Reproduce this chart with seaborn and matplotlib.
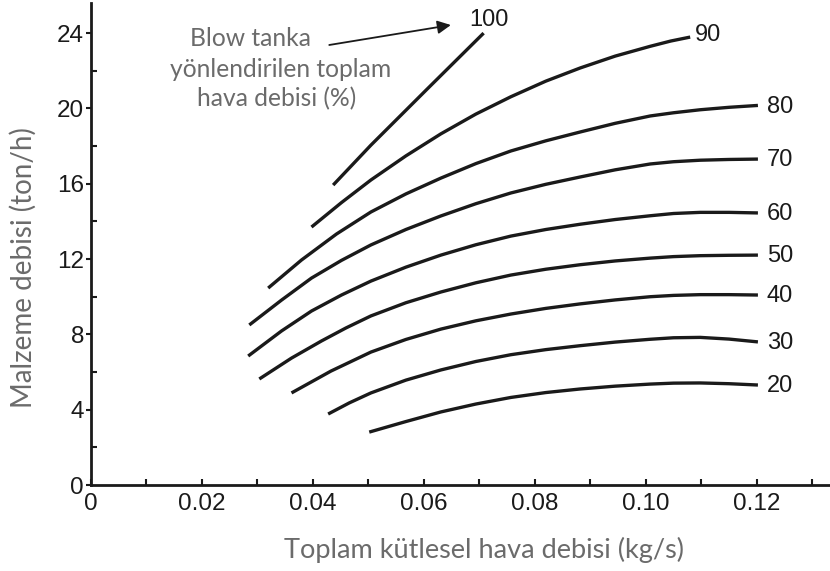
import matplotlib
matplotlib.use("Agg")
import matplotlib.pyplot as plt
import seaborn as sns
import pandas as pd
from matplotlib.ticker import FixedLocator, MultipleLocator

# ---------------- data ----------------
curve_names = ["100", "90", "80", "70", "60", "50", "40", "30", "20"]

x_100 = [0.0437, 0.0505, 0.0606, 0.0708]
y_100 = [15.93, 18.05, 21.02, 24.00]
x_90 = [0.0398, 0.0452, 0.0505, 0.0568, 0.0631, 0.0694, 0.0757, 0.0820, 0.0882,
        0.0945, 0.1008, 0.1045, 0.1080]
y_90 = [13.70, 15.00, 16.20, 17.48, 18.65, 19.70, 20.62, 21.45, 22.15,
        22.78, 23.30, 23.58, 23.79]
x_80 = [0.0320, 0.0380, 0.0443, 0.0505, 0.0568, 0.0631, 0.0694, 0.0757, 0.0820,
        0.0882, 0.0945, 0.1008, 0.1050, 0.1098, 0.1150, 0.1202]
y_80 = [10.46, 11.95, 13.33, 14.50, 15.46, 16.30, 17.07, 17.74, 18.28,
        18.75, 19.21, 19.60, 19.77, 19.93, 20.06, 20.16]
x_70 = [0.0286, 0.0344, 0.0398, 0.0452, 0.0505, 0.0568, 0.0631, 0.0694, 0.0757,
        0.0820, 0.0882, 0.0945, 0.1008, 0.1050, 0.1098, 0.1150, 0.1202]
y_70 = [8.50, 9.82, 10.99, 11.93, 12.75, 13.57, 14.29, 14.94, 15.51,
        15.97, 16.36, 16.74, 17.05, 17.17, 17.25, 17.29, 17.31]
x_60 = [0.0284, 0.0344, 0.0398, 0.0452, 0.0505, 0.0568, 0.0631, 0.0694, 0.0757,
        0.0820, 0.0882, 0.0945, 0.1008, 0.1050, 0.1098, 0.1150, 0.1202]
y_60 = [6.85, 8.18, 9.24, 10.09, 10.83, 11.57, 12.21, 12.76, 13.22,
        13.57, 13.85, 14.10, 14.30, 14.42, 14.48, 14.48, 14.45]
x_50 = [0.0304, 0.0362, 0.0416, 0.0460, 0.0505, 0.0568, 0.0631, 0.0694, 0.0757,
        0.0820, 0.0882, 0.0945, 0.1008, 0.1050, 0.1098, 0.1150, 0.1202]
y_50 = [5.63, 6.74, 7.65, 8.34, 8.98, 9.68, 10.25, 10.74, 11.15,
        11.46, 11.70, 11.90, 12.05, 12.13, 12.18, 12.20, 12.21]
x_40 = [0.0362, 0.0433, 0.0505, 0.0568, 0.0631, 0.0694, 0.0757, 0.0820, 0.0882,
        0.0945, 0.1008, 0.1050, 0.1098, 0.1150, 0.1202]
y_40 = [4.89, 6.05, 7.06, 7.73, 8.28, 8.72, 9.08, 9.38, 9.62,
        9.83, 10.00, 10.07, 10.11, 10.11, 10.09]
x_30 = [0.0428, 0.0466, 0.0505, 0.0568, 0.0631, 0.0694, 0.0757, 0.0820, 0.0882,
        0.0945, 0.1008, 0.1050, 0.1098, 0.1150, 0.1202]
y_30 = [3.77, 4.36, 4.89, 5.57, 6.11, 6.56, 6.92, 7.19, 7.40,
        7.59, 7.74, 7.82, 7.84, 7.75, 7.60]
x_20 = [0.0502, 0.0568, 0.0631, 0.0694, 0.0757, 0.0820, 0.0882, 0.0945, 0.1008,
        0.1050, 0.1098, 0.1150, 0.1202]
y_20 = [2.81, 3.37, 3.88, 4.30, 4.65, 4.91, 5.10, 5.25, 5.36,
        5.41, 5.42, 5.38, 5.31]

x_ticks = [0, 0.02, 0.04, 0.06, 0.08, 0.10, 0.12]
x_tick_labels = ["0", "0.02", "0.04", "0.06", "0.08", "0.10", "0.12"]
y_ticks = [0, 4, 8, 12, 16, 20, 24]
y_tick_labels = ["0", "4", "8", "12", "16", "20", "24"]

x_label = "Toplam kütlesel hava debisi (kg/s)"
y_label = "Malzeme debisi (ton/h)"
note_lines = ["Blow tanka", "yönlendirilen toplam", "hava debisi (%)"]

# ---------------- build table ----------------
xs = [x_100, x_90, x_80, x_70, x_60, x_50, x_40, x_30, x_20]
ys = [y_100, y_90, y_80, y_70, y_60, y_50, y_40, y_30, y_20]
rows = []
for name, xv, yv in zip(curve_names, xs, ys):
    for i, (a, b) in enumerate(zip(xv, yv)):
        rows.append({"curve": name, "order": i, "x": a, "y": b})
df = pd.DataFrame(rows)

# ---------------- style ----------------
sns.set_theme(style="ticks")
NUM = ["Liberation Sans", "DejaVu Sans"]
plt.rcParams["font.family"] = NUM
INK = "#1a1a1a"
GRAY = "#6b6b6b"
SOFT = ["Lato", "DejaVu Sans"]

fig = plt.figure(figsize=(8.30, 5.71), dpi=100)
ax = fig.add_axes([90.5 / 830, 86 / 571, (829 - 90.5) / 830, 482 / 571])

sns.lineplot(data=df, x="x", y="y", units="curve", estimator=None, sort=False,
             color=INK, lw=2.4, ax=ax, legend=False,
             solid_capstyle="butt", solid_joinstyle="round")

ax.set_xlim(0, 0.133)
ax.set_ylim(0, 25.6)

for s in ["top", "right"]:
    ax.spines[s].set_visible(False)
for s in ["left", "bottom"]:
    ax.spines[s].set_linewidth(2.0)
    ax.spines[s].set_color(INK)

ax.xaxis.set_major_locator(FixedLocator(x_ticks))
ax.set_xticklabels(x_tick_labels)
ax.xaxis.set_minor_locator(MultipleLocator(0.01))
ax.yaxis.set_major_locator(FixedLocator(y_ticks))
ax.set_yticklabels(y_tick_labels)
ax.yaxis.set_minor_locator(MultipleLocator(2))

ax.tick_params(axis="x", which="both", direction="in", length=4.3, width=1.5,
               color=INK, labelsize=17.5, labelcolor=INK, pad=6.0)
ax.tick_params(axis="y", which="major", direction="out", length=3.6, width=1.5,
               color=INK, labelsize=17.5, labelcolor=INK, pad=1.0)
ax.tick_params(axis="y", which="minor", direction="in", length=4.5, width=1.5,
               color=INK)
for lab in ax.get_xticklabels() + ax.get_yticklabels():
    lab.set_family(NUM)
ax.set_xlabel("")
ax.set_ylabel("")

# curve labels, placed relative to each curve's last point
offsets = {"100": (3.6, 9.4, "center"), "90": (3.6, 1.4, "left")}
for name, xv, yv in zip(curve_names, xs, ys):
    dx, dy, ha = offsets.get(name, (6.5, -0.8, "left"))
    ax.annotate(name, (xv[-1], yv[-1]), xytext=(dx, dy), textcoords="offset points",
                ha=ha, va="center", fontsize=17, color=INK, family=NUM)

# explanatory note with arrow
ax.text(0.01786, 23.31, note_lines[0], ha="left", va="baseline",
        fontsize=17.7, color=GRAY, family=SOFT)
ax.text(0.0343, 21.67, note_lines[1], ha="center", va="baseline",
        fontsize=17.7, color=GRAY, family=SOFT)
ax.text(0.0335, 20.13, note_lines[2], ha="center", va="baseline",
        fontsize=17.7, color=GRAY, family=SOFT)
ax.annotate("", xy=(0.0649, 24.43), xytext=(0.0430, 23.37),
            arrowprops=dict(arrowstyle="-|>", lw=1.3, color=INK,
                            mutation_scale=20, shrinkA=0, shrinkB=0))

fig.text(484 / 830, (571 - 558) / 571, x_label, ha="center", va="baseline",
         fontsize=19.5, color=GRAY, family=SOFT)
fig.text(23 / 830, 1 - 268 / 571, y_label, ha="center", va="center",
         rotation=90, fontsize=20, color=GRAY, family=SOFT)

fig.savefig("out.png", dpi=100)
